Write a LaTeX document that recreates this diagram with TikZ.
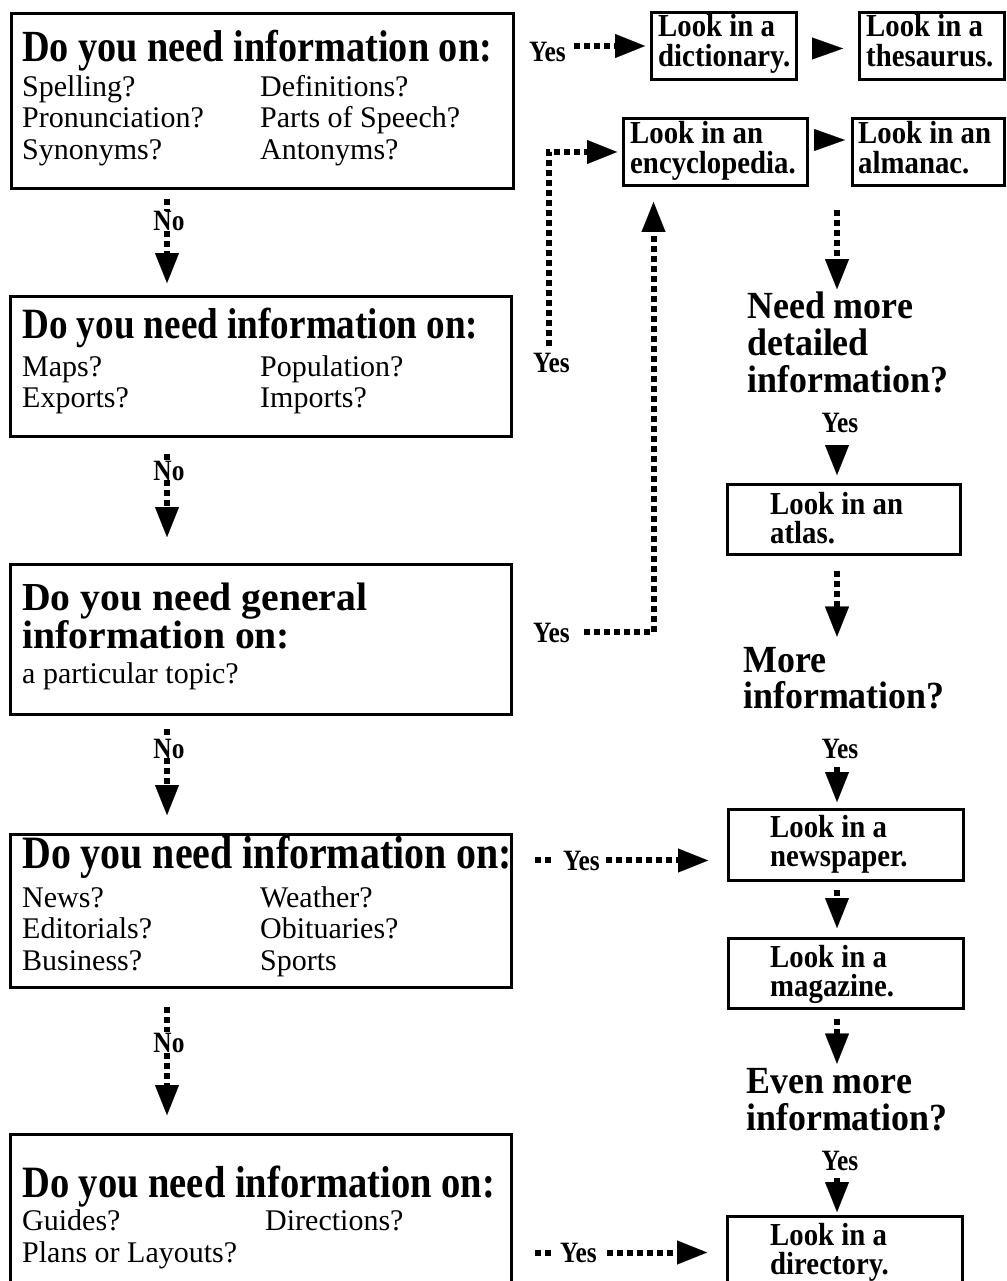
\documentclass[tikz,border=0pt]{standalone}
\usepackage{fontspec}
\setmainfont{Liberation Serif}
\newfontfamily\bfam{Liberation Serif}[FakeStretch=0.86]
\newfontfamily\bfamb{Liberation Serif}[FakeStretch=0.90]
\newfontfamily\bfamc{Liberation Serif}[FakeStretch=0.935]
\usetikzlibrary{arrows.meta,calc}
\newcommand{\mylines}[2]{\vtop{\lineskiplimit=-200pt\baselineskip=#1\relax #2}}
\tikzset{
  qbox/.style={draw, line width=3pt, anchor=north west, inner sep=0pt, minimum width=#1},
  rbox/.style={draw, line width=3pt, anchor=north west, inner sep=0pt},
  tx/.style={anchor=base west, inner sep=0pt, font=\fontsize{30}{30}\selectfont},
  ttl/.style={anchor=base west, inner sep=0pt, font=\bfam\bfseries\fontsize{#1}{#1}\selectfont},
  rb/.style={anchor=base west, inner sep=0pt, font=\bfamb\bfseries\fontsize{32}{32}\selectfont},
  qq/.style={anchor=base west, inner sep=0pt, font=\bfamc\bfseries\fontsize{38.4}{38.4}\selectfont},
  lbl/.style={inner sep=0pt, font=\bfam\bfseries\fontsize{29.5}{29.5}\selectfont},
  dotln/.style={line width=6pt, dash pattern=on 6pt off 4pt},
  bigtip/.style={-{Triangle[length=30pt,width=24pt,line width=0.1pt]}},
  sidetip/.style={-{Triangle[length=31pt,width=22pt,line width=0.1pt]}},
  solidarr/.style={line width=6pt, bigtip},
}
\begin{document}
\begin{tikzpicture}[x=1pt,y=-1pt]
\useasboundingbox (0,0) rectangle (1006,1281);
\clip (0,0) rectangle (1006,1281);
\fill[white] (0,0) rectangle (1006,1281);
\coordinate (colL) at (167,0);
\coordinate (colR) at (837,0);

% ---------- left question boxes ----------
\node[qbox=502, minimum height=175] (q1) at (10,12) {};
\node[ttl=44.5] (q1t) at (22,62) {Do you need information on:};
\node[tx] (q1a) at (22,97) {Spelling?};
\node[tx] (q1b) at (22,128) {Pronunciation?};
\node[tx] (q1c) at (22,160) {Synonyms?};
\node[tx] (q1d) at (260,97) {Definitions?};
\node[tx] (q1e) at (260,128) {Parts of Speech?};
\node[tx] (q1f) at (260,160) {Antonyms?};

\node[qbox=501, minimum height=140] (q2) at (9,295) {};
\node[ttl=43.2] (q2t) at (22,338) {Do you need information on:};
\node[tx] (q2a) at (22,376) {Maps?};
\node[tx] (q2b) at (22,407) {Exports?};
\node[tx] (q2c) at (260,376) {Population?};
\node[tx] (q2d) at (260,407) {Imports?};

\node[qbox=501, minimum height=150] (q3) at (9,563) {};
\node[anchor=base west, inner sep=0pt, font=\bfseries\fontsize{39.7}{39.7}\selectfont] (q3t) at (22,610) {\mylines{38.5pt}{\hbox{Do you need general}\hbox{information on:}}};
\node[tx] (q3a) at (22,683) {a particular topic?};

\node[qbox=501, minimum height=153] (q4) at (9,833) {};
\node[ttl=46.4] (q4t) at (22,868) {Do you need information on:};
\node[tx] (q4a) at (22,907) {News?};
\node[tx] (q4b) at (22,938) {Editorials?};
\node[tx] (q4c) at (22,970) {Business?};
\node[tx] (q4d) at (260,907) {Weather?};
\node[tx] (q4e) at (260,938) {Obituaries?};
\node[tx] (q4f) at (260,970) {Sports};

\node[qbox=501, minimum height=175] (q5) at (9,1133) {};
\node[ttl=44.8] (q5t) at (22,1197) {Do you need information on:};
\node[tx] (q5a) at (22,1230) {Guides?};
\node[tx] (q5b) at (22,1262) {Plans or Layouts?};
\node[tx] (q5c) at (265,1230) {Directions?};

% ---------- No labels and arrows ----------
\node[lbl, anchor=base] (n1) at (169,231) {No};
\node[lbl, anchor=base] (n2) at (169,480) {No};
\node[lbl, anchor=base] (n3) at (169,758) {No};
\node[lbl, anchor=base] (n4) at (169,1052) {No};
\draw[dotln, shorten <=9pt] (q1.south -| colL) -- (n1.north -| colL);
\draw[dotln, bigtip, shorten >=12pt] (n1.south -| colL) -- (q2.north -| colL);
\draw[dotln, shorten <=16pt] (q2.south -| colL) -- (n2.north -| colL);
\draw[dotln, bigtip, shorten >=26pt] (n2.south -| colL) -- (q3.north -| colL);
\draw[dotln, shorten <=13pt] (q3.south -| colL) -- (n3.north -| colL);
\draw[dotln, bigtip, shorten >=18pt] (n3.south -| colL) -- (q4.north -| colL);
\draw[dotln, shorten <=18pt] (q4.south -| colL) -- (n4.north -| colL);
\draw[dotln, bigtip, shorten >=18pt] (n4.south -| colL) -- (q5.north -| colL);

% ---------- right boxes ----------
\node[rbox, minimum width=145, minimum height=67] (dict) at (650,11) {};
\node[rb] (dictt) at (658,37) {\mylines{30pt}{\hbox{Look in a}\hbox{dictionary.}}};
\node[rbox, minimum width=145, minimum height=67] (thes) at (858,11) {};
\node[rb] (thest) at (866,37) {\mylines{30pt}{\hbox{Look in a}\hbox{thesaurus.}}};
\node[rbox, minimum width=184, minimum height=67] (ency) at (622,117) {};
\node[rb] (encyt) at (630,144) {\mylines{30pt}{\hbox{Look in an}\hbox{encyclopedia.}}};
\node[rbox, minimum width=152, minimum height=67] (alman) at (851,117) {};
\node[rb] (almant) at (858,144) {\mylines{30pt}{\hbox{Look in an}\hbox{almanac.}}};

\node[rbox, minimum width=233, minimum height=70] (atlas) at (726,483) {};
\node[rb] (atlast) at (770,514) {\mylines{29.5pt}{\hbox{Look in an}\hbox{atlas.}}};
\node[rbox, minimum width=235, minimum height=71] (news) at (727,808) {};
\node[rb] (newst) at (770,837) {\mylines{29.5pt}{\hbox{Look in a}\hbox{newspaper.}}};
\node[rbox, minimum width=235, minimum height=70] (mag) at (727,937) {};
\node[rb] (magt) at (770,967) {\mylines{29.5pt}{\hbox{Look in a}\hbox{magazine.}}};
\node[rbox, minimum width=235, minimum height=90] (dir) at (726,1215) {};
\node[rb] (dirt) at (770,1245) {\mylines{29.5pt}{\hbox{Look in a}\hbox{directory.}}};

% ---------- questions on the right ----------
\node[qq] (nd) at (747,318) {\mylines{37pt}{\hbox{Need more}\hbox{detailed}\hbox{information?}}};
\node[qq] (mo) at (743,672) {\mylines{36.5pt}{\hbox{More}\hbox{information?}}};
\node[qq] (ev) at (746,1093) {\mylines{37pt}{\hbox{Even more}\hbox{information?}}};

% ---------- Yes labels ----------
\node[lbl, anchor=base west] (y1) at (529,62) {Yes};
\node[lbl, anchor=base west] (y2) at (533,372) {Yes};
\node[lbl, anchor=base west] (y3) at (533,642) {Yes};
\node[lbl, anchor=base west] (y4) at (563,870) {Yes};
\node[lbl, anchor=base west] (y5) at (560,1262) {Yes};
\node[lbl, anchor=base] (ry1) at (840,432) {Yes};
\node[lbl, anchor=base] (ry2) at (840,758) {Yes};
\node[lbl, anchor=base] (ry3) at (840,1170) {Yes};

% ---------- right connectors ----------
\draw[dotln, bigtip, shorten <=8pt, shorten >=5pt] (y1.east |- dict.west) -- (dict.west);
\draw[line width=0.5pt, sidetip, shorten <=14pt, shorten >=15pt] ([yshift=-2.5pt]dict.east) -- ([yshift=-2.5pt]thes.west);
\draw[line width=0.5pt, sidetip, shorten <=7pt, shorten >=6pt] ([yshift=12pt]ency.east) -- ([yshift=12pt]alman.west);
\draw[dotln, bigtip, shorten <=6pt, shorten >=5pt] ([xshift=-3pt]y2.north) |- (ency.west);
\draw[dotln, bigtip, shorten <=14pt, shorten >=15pt] (y3.east) -| ([xshift=-62pt]ency.south);
\draw[dotln, bigtip, shorten <=23pt, shorten >=2pt] (alman.south -| colR) -- (nd.north -| colR);
\draw[solidarr, shorten <=13pt, shorten >=8pt] (ry1.south -| colR) -- (atlas.north -| colR);
\draw[dotln, bigtip, shorten <=15pt, shorten >=10pt] (atlas.south -| colR) -- (mo.north -| colR);
\draw[solidarr, shorten <=9pt, shorten >=6pt] (ry2.south -| colR) -- (news.north -| colR);
\draw[dotln, shorten <=22pt, shorten >=10pt] (q4.east |- y4) -- (y4.west);
\draw[dotln, bigtip, shorten <=6pt, shorten >=19pt] (y4.east) -- (news.west |- y4);
\draw[dotln, bigtip, shorten <=8pt, shorten >=9pt] (news.south -| colR) -- (mag.north -| colR);
\draw[dotln, bigtip, shorten <=9pt, shorten >=4pt] (mag.south -| colR) -- (ev.north -| colR);
\draw[solidarr, shorten <=7pt, shorten >=3pt] (ry3.south -| colR) -- (dir.north -| colR);
\draw[dotln, shorten <=22pt, shorten >=8pt] (q5.east |- y5) -- (y5.west);
\draw[dotln, bigtip, shorten <=10pt, shorten >=19pt] (y5.east) -- (dir.west |- y5);
\end{tikzpicture}
\end{document}
